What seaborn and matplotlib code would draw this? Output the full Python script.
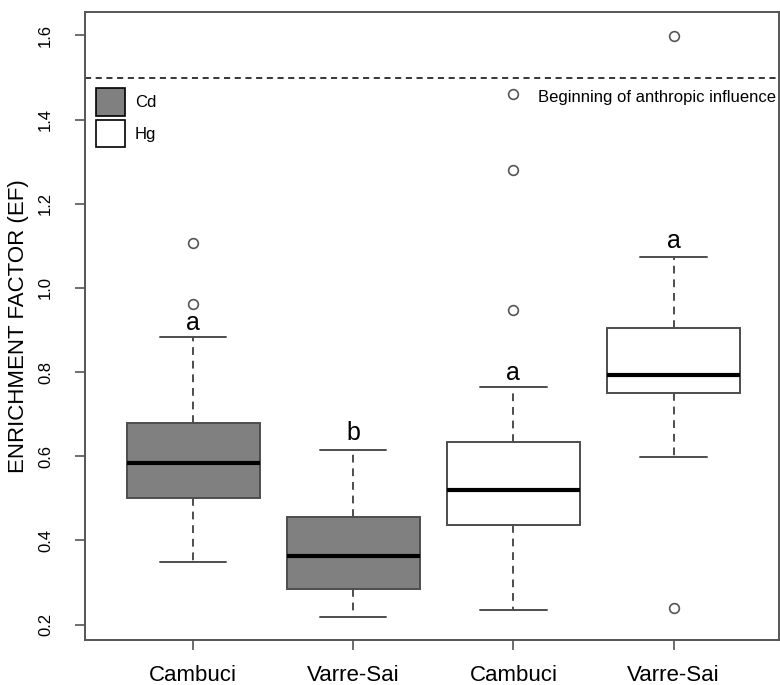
import pandas as pd
import matplotlib.pyplot as plt
from matplotlib.patches import Patch
import seaborn as sns

# Box stats (whisker low, Q1, median, Q3, whisker high)
groups = ["Cambuci Cd", "Varre-Sai Cd", "Cambuci Hg", "Varre-Sai Hg"]
sites = ["Cambuci", "Varre-Sai", "Cambuci", "Varre-Sai"]
metals = ["Cd", "Cd", "Hg", "Hg"]
whisk_lo = [0.348, 0.219, 0.234, 0.598]
q1 = [0.501, 0.285, 0.437, 0.750]
median = [0.584, 0.364, 0.520, 0.793]
q3 = [0.679, 0.456, 0.634, 0.904]
whisk_hi = [0.883, 0.614, 0.765, 1.073]

# Outliers
out_group = ["Cambuci Cd", "Cambuci Cd", "Cambuci Hg", "Cambuci Hg", "Cambuci Hg",
             "Varre-Sai Hg", "Varre-Sai Hg"]
out_value = [0.962, 1.106, 0.948, 1.280, 1.460, 1.598, 0.240]

# Significance letters
letters = ["a", "b", "a", "a"]
letter_y = [0.917, 0.656, 0.799, 1.111]

threshold = 1.5

sns.set_style("ticks")
plt.rcParams["font.family"] = ["Liberation Sans", "DejaVu Sans"]

rows = []
for g, m, a, b, c, d, e in zip(groups, metals, whisk_lo, q1, median, q3, whisk_hi):
    for v in (a, b, c, d, e):
        rows.append({"group": g, "metal": m, "ef": v})
df = pd.DataFrame(rows)
df_out = pd.DataFrame({"group": out_group, "ef": out_value})

fig = plt.figure(figsize=(7.8, 6.85), dpi=100)
ax = fig.add_axes([0.109, 0.066, 0.89, 0.916])

edge = "#4d4d4d"
sns.boxplot(
    data=df, x="group", y="ef", hue="metal", order=groups,
    palette={"Cd": "#808080", "Hg": "white"}, dodge=False,
    whis=(0, 100), width=0.83, showfliers=False,
    linecolor=edge, linewidth=1.4,
    whiskerprops=dict(linestyle=(0, (4, 3))),
    medianprops=dict(color="black", linewidth=3),
    legend=False, ax=ax,
)
sns.stripplot(
    data=df_out, x="group", y="ef", order=groups, jitter=False,
    color="white", edgecolor="#555555", linewidth=1.2, size=7,
    zorder=3, ax=ax,
)

ax.axhline(threshold, color="black", linestyle=(0, (4, 3)), linewidth=1.1)
ax.text(3.66 - 0.02, 1.453, "Beginning of anthropic influence", ha="right",
        va="center", fontsize=12, color="black")

for i, (lt, ly) in enumerate(zip(letters, letter_y)):
    ax.text(i, ly, lt, ha="center", va="center", fontsize=18, color="black")

handles = [Patch(facecolor="#808080", edgecolor="black", linewidth=1.2),
           Patch(facecolor="white", edgecolor="black", linewidth=1.2)]
ax.legend(handles, ["Cd", "Hg"], loc="upper left", bbox_to_anchor=(0.0165, 0.879),
          frameon=False, fontsize=12, handlelength=1.7, handleheight=2.15,
          handletextpad=0.6, labelspacing=0.25, borderaxespad=0, borderpad=0,
          labelcolor="black")

ax.set_xlim(-0.675, 3.66)
ax.set_ylim(0.164, 1.655)
ax.set_yticks([0.2, 0.4, 0.6, 0.8, 1.0, 1.2, 1.4, 1.6])
ax.set_yticklabels(["0.2", "0.4", "0.6", "0.8", "1.0", "1.2", "1.4", "1.6"],
                   rotation=90, va="center", fontsize=12)
ax.set_xticks(range(len(groups)))
ax.set_xticklabels(sites, fontsize=16)
ax.set_xlabel("")
ax.set_ylabel("ENRICHMENT FACTOR (EF)", fontsize=16, color="black")
ax.yaxis.set_label_coords(-0.081, 0.5)
ax.tick_params(length=7, width=1.2, color="#555555", labelcolor="black")
ax.tick_params(axis="y", pad=16)
ax.tick_params(axis="x", pad=11)

for sp in ax.spines.values():
    sp.set_visible(True)
    sp.set_color("#555555")
    sp.set_linewidth(1.4)

fig.savefig("out.png", dpi=100)
